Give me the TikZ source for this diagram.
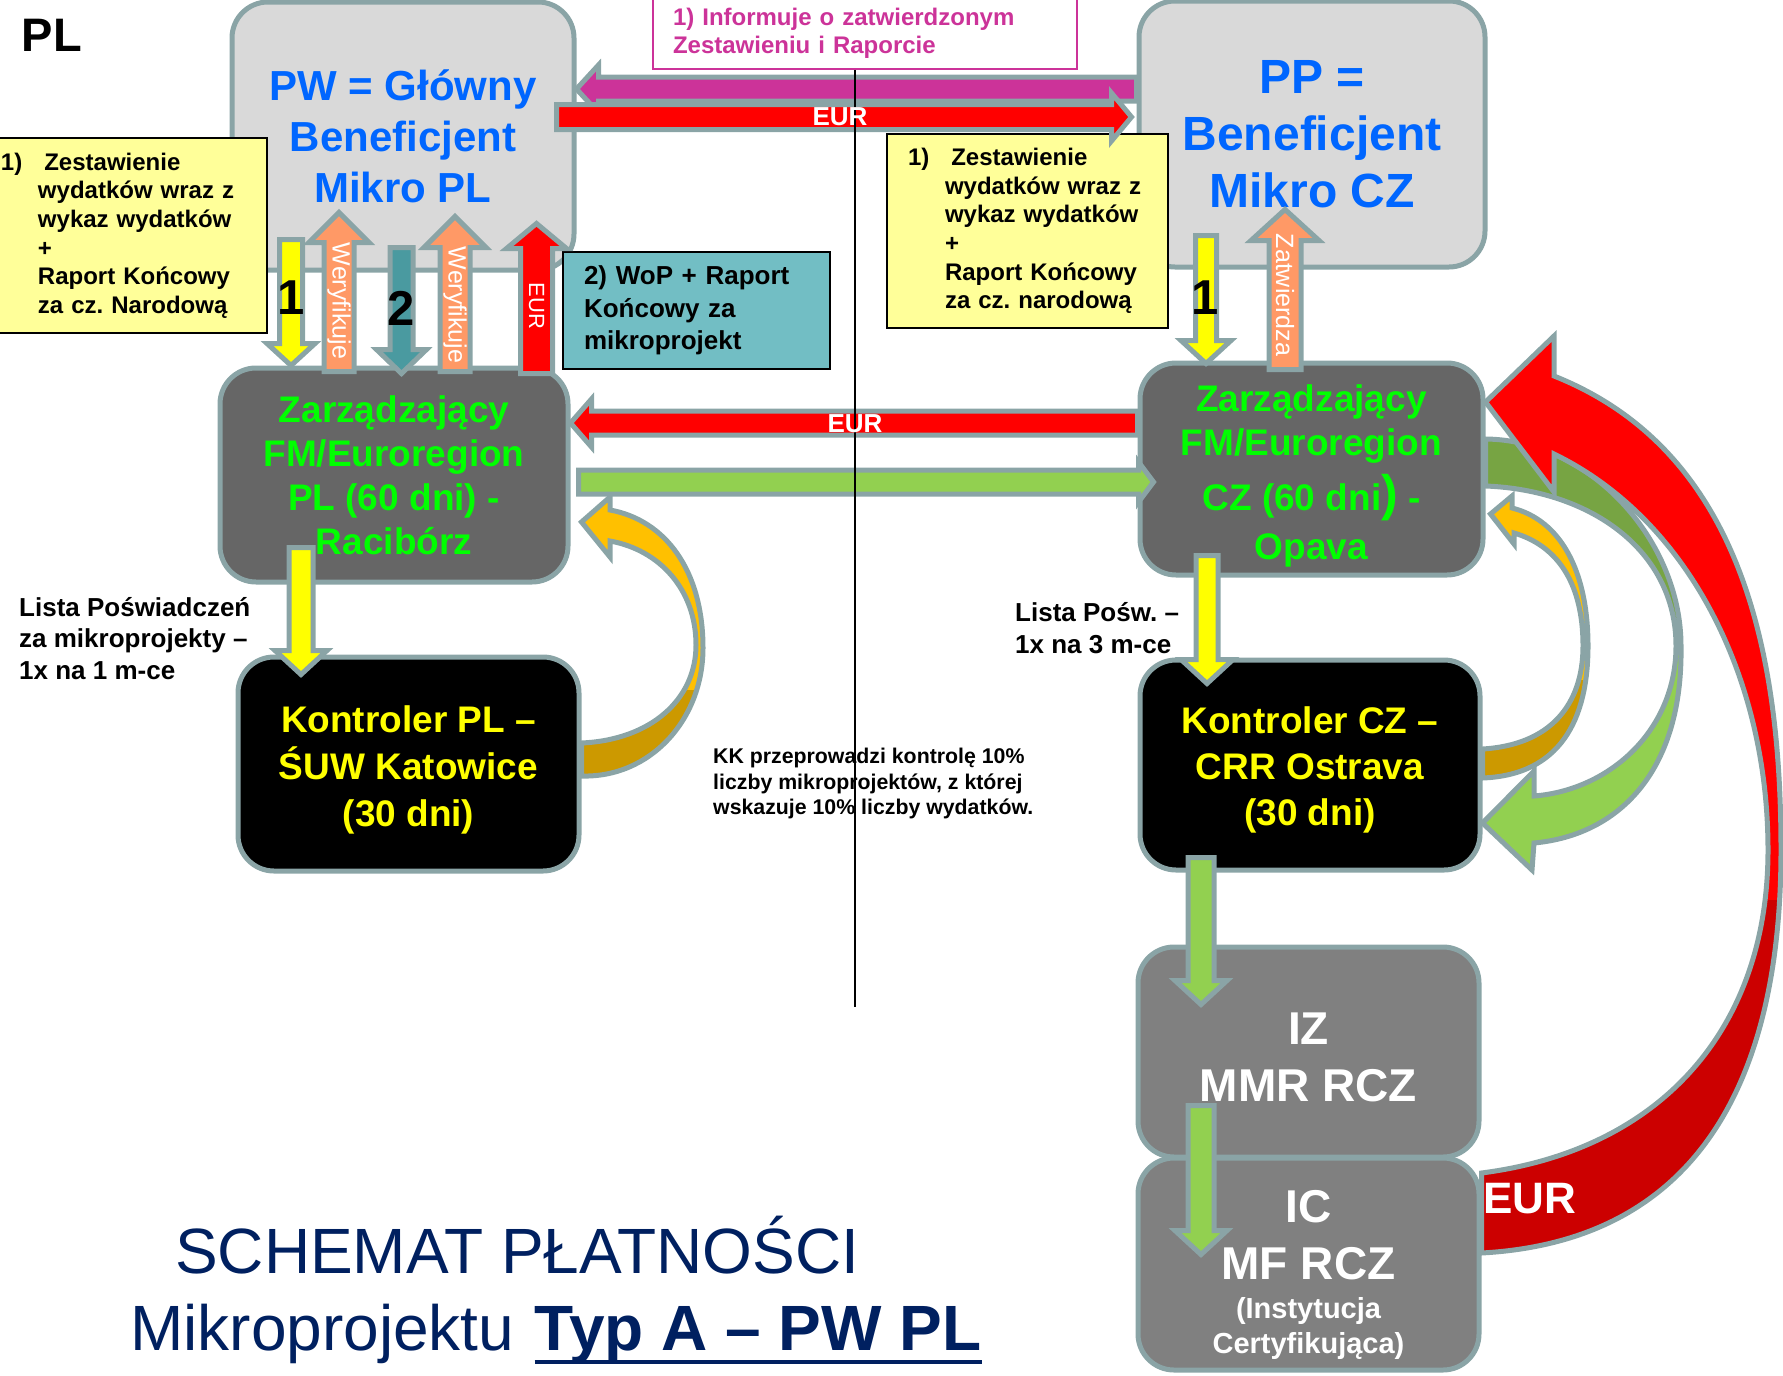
\documentclass[tikz,border=0pt]{standalone}
\usepackage{fontspec}
\setmainfont{Liberation Sans}
\usetikzlibrary{calc}
\frenchspacing

\definecolor{rimc}{RGB}{138,164,166}
\definecolor{lgrey}{RGB}{217,217,217}
\definecolor{dgrey}{RGB}{102,102,102}
\definecolor{mgrey}{RGB}{128,128,128}
\definecolor{pwblue}{RGB}{0,102,255}
\definecolor{zgreen}{RGB}{0,255,0}
\definecolor{kyellow}{RGB}{255,255,0}
\definecolor{notey}{RGB}{255,255,153}
\definecolor{wopteal}{RGB}{114,190,196}
\definecolor{tealarr}{RGB}{74,154,160}
\definecolor{orarr}{RGB}{255,153,102}
\definecolor{magarr}{RGB}{204,51,153}
\definecolor{eurred}{RGB}{255,0,0}
\definecolor{eurdark}{RGB}{204,0,0}
\definecolor{grlight}{RGB}{146,208,80}
\definecolor{grdark}{RGB}{119,164,67}
\definecolor{gold}{RGB}{255,192,0}
\definecolor{golddark}{RGB}{204,153,0}
\definecolor{navy}{RGB}{0,32,96}

\tikzset{
  box/.style={rectangle, rounded corners=36pt, draw=rimc, line width=5pt, align=center, inner sep=0pt, font=\bfseries},
  note/.style={rectangle, draw=black, line width=2.5pt, fill=notey, align=left},
  fat/.style={draw=rimc, line width=5pt, line join=miter},
  rim/.style={draw=rimc, line width=5pt, line join=miter},
  txt/.style={inner sep=0pt, align=left, font=\bfseries},
}

% block arrow: [style]{start}{tip}{half width}{head half width}{head length}
\newcommand{\fatarrow}[6][]{%
  \path[#1] let \p1=#2, \p2=#3,
    \n1={veclen(\x2-\x1,\y2-\y1)}, \n2={atan2(\y2-\y1,\x2-\x1)} in
    [shift={(\p1)}, rotate=\n2]
    (0pt,-#4pt) -- ({\n1-#6pt},-#4pt) -- ({\n1-#6pt},-#5pt) -- (\n1,0pt)
    -- ({\n1-#6pt},#5pt) -- ({\n1-#6pt},#4pt) -- (0pt,#4pt) -- cycle;}
% extra height above the first line of a box
\newcommand{\topr}[1]{\rule{0pt}{#1pt}}

% curved arrows
\newcommand{\redcurve}{(ic.east |- 0,1253) .. controls (1718,1240) and (1781,1050) .. (1781,850)
  .. controls (1781,650) and (1740,450) .. (1554,376) -- (1554,336) -- (zcz.east |- 0,402)
  -- (1554,492) -- (1554,454) .. controls (1690,520) and (1768,680) .. (1768,850)
  .. controls (1768,1030) and (1660,1150) .. (ic.east |- 0,1173) -- cycle}
\newcommand{\greencurve}{(zcz.east |- 0,439) .. controls (1590,440) and (1681,540) .. (1681,646)
  .. controls (1683,770) and (1620,835) .. (1534,843) -- (1532,870) -- (kcz.east |- 0,823)
  -- (1534,771) -- (1534,796) .. controls (1610,790) and (1676,730) .. (1676,646)
  .. controls (1676,550) and (1590,490) .. (zcz.east |- 0,486) -- cycle}
\newcommand{\orangecz}{(kcz.east |- 0,778) .. controls (1560,775) and (1588,720) .. (1588,646)
  .. controls (1588,570) and (1560,520) .. (1512,508) -- (1512,496) -- ($(zcz.east |- 0,514)+(5,0)$)
  -- (1514,544) -- (1514,533) .. controls (1555,545) and (1583,580) .. (1583,646)
  .. controls (1583,705) and (1550,745) .. (kcz.east |- 0,749) -- cycle}
\newcommand{\orangepl}{(kpl.east |- 0,776) .. controls (650,778) and (703,720) .. (703,648)
  .. controls (703,570) and (665,520) .. (610,510) -- (610,497) -- ($(zpl.east |- 0,522)+(11,0)$)
  -- (610,557) -- (610,541) .. controls (660,550) and (696,590) .. (696,645)
  .. controls (696,700) and (650,740) .. (kpl.east |- 0,743) -- cycle}

\begin{document}
\begin{tikzpicture}[x=1pt,y=-1pt]
\useasboundingbox (0,0) rectangle (1783,1376);

% Boxes
\node[box, fill=lgrey, text=pwblue, minimum width=342pt, minimum height=268pt, font=\bfseries\fontsize{42}{51}\selectfont] (pw) at (403,136) {PW = Główny\\Beneficjent\\Mikro PL};
\node[box, fill=lgrey, text=pwblue, minimum width=346pt, minimum height=266pt, font=\bfseries\fontsize{48}{57}\selectfont] (pp) at (1312,134) {PP =\\Beneficjent\\Mikro CZ};
\node[box, fill=dgrey, text=zgreen, minimum width=348pt, minimum height=214pt, font=\bfseries\fontsize{37}{44}\selectfont] (zpl) at (394,475) {Zarządzający\\FM/Euroregion\\PL (60 dni) -\\Racibórz};
\node[box, fill=dgrey, text=zgreen, minimum width=343pt, minimum height=212pt, font=\bfseries\fontsize{37}{44}\selectfont] (zcz) at (1311.5,469) {\topr{41}Zarządzający\\FM/Euroregion\\[10pt]CZ (60 dni{\fontsize{50}{50}\selectfont)} -\\[5pt]Opava};
\node[box, fill=black, text=kyellow, minimum width=341pt, minimum height=214pt, font=\bfseries\fontsize{37}{47}\selectfont] (kpl) at (408.5,764) {\topr{39}Kontroler PL –\\ŚUW Katowice\\(30 dni)};
\node[box, fill=black, text=kyellow, minimum width=340pt, minimum height=210pt, font=\bfseries\fontsize{37}{46}\selectfont] (kcz) at (1310,765) {\topr{36}Kontroler CZ –\\CRR Ostrava\\(30 dni)};
\node[box, fill=mgrey, text=white, minimum width=341pt, minimum height=210pt, font=\bfseries\fontsize{46}{57}\selectfont] (iz) at (1308.5,1052) {\topr{42}IZ\\MMR RCZ};
\node[box, fill=mgrey, text=white, minimum width=341pt, minimum height=212pt, font=\bfseries\fontsize{46}{57}\selectfont] (ic) at (1308.5,1264) {\topr{53}IC\\MF RCZ\\[-18pt]\fontsize{29}{34}\selectfont(Instytucja\\[-22pt]\fontsize{29}{34}\selectfont Certyfikująca)};

% Notes
\node[note, minimum width=269pt, minimum height=195pt, text width=263pt, inner xsep=3pt, font=\bfseries\fontsize{24}{28.6}\selectfont] (ypl) at (132.5,235.5) {1)\hspace{22pt}Zestawienie\\\hspace*{37pt}wydatków wraz z\\\hspace*{37pt}wykaz wydatków\\\hspace*{37pt}+\\\hspace*{37pt}Raport Końcowy\\\hspace*{37pt}za cz. Narodową};
\node[note, minimum width=281pt, minimum height=194pt, text width=239pt, inner xsep=21pt, font=\bfseries\fontsize{24}{28.6}\selectfont] (ycz) at (1027.5,231) {1)\hspace{22pt}Zestawienie\\\hspace*{37pt}wydatków wraz z\\\hspace*{37pt}wykaz wydatków\\\hspace*{37pt}+\\\hspace*{37pt}Raport Końcowy\\\hspace*{37pt}za cz. narodową};
\node[note, fill=wopteal, minimum width=267pt, minimum height=117pt, text width=225pt, inner xsep=21pt, font=\bfseries\fontsize{26}{32.5}\selectfont] (wop) at (696.5,310.5) {2) WoP + Raport\\Końcowy za\\mikroprojekt};
\node[rectangle, draw=magarr, line width=1.5pt, fill=white, minimum width=424pt, minimum height=72pt, text width=384pt, inner xsep=20pt, align=left, text=magarr, font=\bfseries\fontsize{24}{28}\selectfont] (info) at (865,33) {1) Informuje o zatwierdzonym\\Zestawieniu i Raporcie};

% Curved arrows
\fill[gold] \orangepl;
\begin{scope}
\clip (550,690) rectangle (720,800);
\fill[golddark] \orangepl;
\end{scope}
\draw[rim] \orangepl;

\fill[gold] \orangecz;
\begin{scope}
\clip (1470,680) rectangle (1600,800);
\fill[golddark] \orangecz;
\end{scope}
\draw[rim] \orangecz;

\fill[grlight] \greencurve;
\begin{scope}
\clip (1470,420) rectangle (1700,646);
\fill[grdark] \greencurve;
\end{scope}
\draw[rim] \greencurve;

\fill[eurred] \redcurve;
\begin{scope}
\clip (1460,900) rectangle (1790,1300);
\fill[eurdark] \redcurve;
\end{scope}
\draw[rim] \redcurve;

% Arrows top
\fatarrow[fat, fill=magarr]{(pp.west |- 0,89)}{(pw.east |- 0,89)}{12}{24}{22}
\fatarrow[fat, fill=eurred]{($(pw.east |- 0,117)+(-20,0)$)}{($(pp.west |- 0,117)+(-5,0)$)}{12.5}{24}{20}

% Arrows PL
\fatarrow[fat, fill=kyellow]{($(291,0 |- pw.south)+(0,-33)$)}{(291,0 |- zpl.north)}{11.5}{24}{22}
\fatarrow[fat, fill=orarr]{($(339,0 |- zpl.north)+(0,6)$)}{($(339,0 |- pw.south)+(0,-60)$)}{15}{30}{30}
\fatarrow[fat, fill=tealarr]{($(401.5,0 |- pw.south)+(0,-25)$)}{($(401.5,0 |- zpl.north)+(0,8)$)}{11.5}{25}{24}
\fatarrow[fat, fill=orarr]{($(455,0 |- zpl.north)+(0,6)$)}{($(455,0 |- pw.south)+(0,-56)$)}{15}{31}{31}
\fatarrow[fat, fill=eurred]{($(536.5,0 |- zpl.north)+(0,8)$)}{($(536.5,0 |- pw.south)+(0,-49)$)}{16}{30}{25}
\fatarrow[fat, fill=kyellow]{($(301,0 |- zpl.south)+(0,-37)$)}{($(301,0 |- kpl.north)+(0,20)$)}{12}{26}{24}

% Arrows between regions
\fatarrow[fat, fill=eurred]{(zcz.west |- 0,423)}{(zpl.east |- 0,423)}{12}{24}{21}
\fatarrow[fat, fill=grlight]{($(zpl.east |- 0,482)+(8,0)$)}{($(zcz.west |- 0,482)+(16,0)$)}{12}{20}{15}

% Arrows CZ
\fatarrow[fat, fill=kyellow]{($(1206,0 |- pp.south)+(0,-34)$)}{($(1206,0 |- zcz.north)+(0,3)$)}{10.5}{25}{23}
\fatarrow[fat, fill=orarr]{($(1285,0 |- zcz.north)+(0,9)$)}{($(1285,0 |- pp.south)+(0,-60)$)}{16}{34}{31}
\fatarrow[fat, fill=kyellow]{($(1207,0 |- zcz.south)+(0,-22)$)}{($(1207,0 |- kcz.north)+(0,26)$)}{11}{26}{24}
\fatarrow[fat, fill=grlight]{($(1201,0 |- kcz.south)+(0,-15)$)}{($(1201,0 |- iz.north)+(0,60)$)}{13}{26}{24}
\fatarrow[fat, fill=grlight]{($(1201,0 |- iz.south)+(0,-54)$)}{($(1201,0 |- ic.north)+(0,99)$)}{13}{26}{24}

% Divider
\draw[line width=1.5pt] (855,0 |- info.south) -- (855,1007);

% Arrow labels
\node[txt, text=white, font=\bfseries\fontsize{26}{30}\selectfont] (eur1) at (840,117) {EUR};
\node[txt, text=white, font=\bfseries\fontsize{26}{30}\selectfont] (eur2) at (855,424) {EUR};
\node[txt, text=white, anchor=base west, font=\bfseries\fontsize{44}{50}\selectfont] (eur3) at (1483,1213) {EUR};
\node[txt, text=white, rotate=-90, font=\fontsize{25}{30}\selectfont] (wer1) at (339,301) {Weryfikuje};
\node[txt, text=white, rotate=-90, font=\fontsize{25}{30}\selectfont] (wer2) at (455,305) {Weryfikuje};
\node[txt, text=white, rotate=-90, font=\fontsize{22}{26}\selectfont] (eurv) at (536.5,306) {EUR};
\node[txt, text=white, rotate=-90, font=\fontsize{25}{30}\selectfont] (zatw) at (1285,295) {Zatwierdza};
\node[txt, font=\bfseries\fontsize{49}{58}\selectfont] (n1a) at (291,298) {1};
\node[txt, font=\bfseries\fontsize{49}{58}\selectfont] (n2) at (401.5,308) {2};
\node[txt, font=\bfseries\fontsize{49}{58}\selectfont] (n1b) at (1205,298) {1};

% Free texts
\node[txt, font=\bfseries\fontsize{47}{56}\selectfont] (pl) at (52,35) {PL};
\node[txt, anchor=north west, font=\bfseries\fontsize{26}{31.5}\selectfont] (lista) at (19,597) {Lista Poświadczeń\\za mikroprojekty –\\1x na 1 m-ce};
\node[txt, anchor=north west, font=\bfseries\fontsize{26}{32}\selectfont] (listacz) at (1015,602) {Lista Pośw. –\\1x na 3 m-ce};
\node[txt, anchor=north west, font=\bfseries\fontsize{21.3}{25.5}\selectfont] (kk) at (713,748) {KK przeprowadzi kontrolę 10\%\\liczby mikroprojektów, z której\\wskazuje 10\% liczby wydatków.};

% Title
\node[txt, anchor=base west, text=navy, font=\fontsize{64}{72}\selectfont] (ttla) at (175,1273) {SCHEMAT PŁATNOŚCI};
\node[txt, anchor=base west, text=navy, font=\fontsize{64}{74}\selectfont] (ttlb) at (130,1350) {Mikroprojektu};
\node[txt, anchor=base west, text=navy, font=\bfseries\fontsize{64}{74}\selectfont] (ttlc) at ([xshift=20pt]ttlb.base east) {Typ A – PW PL};
\draw[navy, line width=4pt] ([yshift=-12pt]ttlc.base west) -- ([yshift=-12pt]ttlc.base east);
\end{tikzpicture}
\end{document}
